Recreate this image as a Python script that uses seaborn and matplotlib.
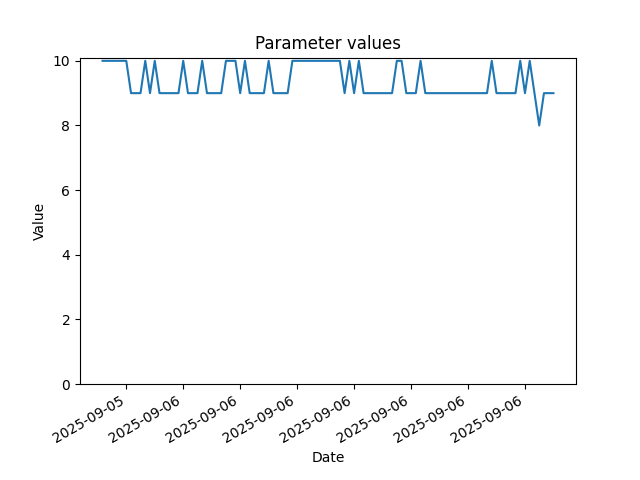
import seaborn as sns
import matplotlib
matplotlib.use("Agg")
import matplotlib.pyplot as plt
import matplotlib.dates as mdates
import pandas as pd

# readings every 15 minutes
start = "2025-09-05 19:45"
values = [10, 10, 10, 10, 10, 10, 9, 9, 9, 10,
          9, 10, 9, 9, 9, 9, 9, 10, 9, 9,
          9, 10, 9, 9, 9, 9, 10, 10, 10, 9,
          10, 9, 9, 9, 9, 10, 9, 9, 9, 9,
          10, 10, 10, 10, 10, 10, 10, 10, 10, 10,
          10, 9, 10, 9, 10, 9, 9, 9, 9, 9,
          9, 9, 10, 10, 9, 9, 9, 10, 9, 9,
          9, 9, 9, 9, 9, 9, 9, 9, 9, 9,
          9, 9, 10, 9, 9, 9, 9, 9, 10, 9,
          10, 9, 8, 9, 9, 9]

dates = pd.date_range(start=start, periods=len(values), freq="15min")
df = pd.DataFrame({"Date": dates, "Value": values})

fig, ax = plt.subplots(figsize=(6.4, 4.8), dpi=100)
sns.lineplot(data=df, x="Date", y="Value", ax=ax)

ax.set_ylim(bottom=0)
ax.xaxis.set_major_locator(mdates.HourLocator(byhour=range(0, 24, 3)))
ax.xaxis.set_major_formatter(mdates.DateFormatter("%Y-%m-%d"))
ax.set_title("Parameter values")
ax.set_xlabel("Date")
ax.set_ylabel("Value")
fig.autofmt_xdate()

plt.savefig("out.png")
